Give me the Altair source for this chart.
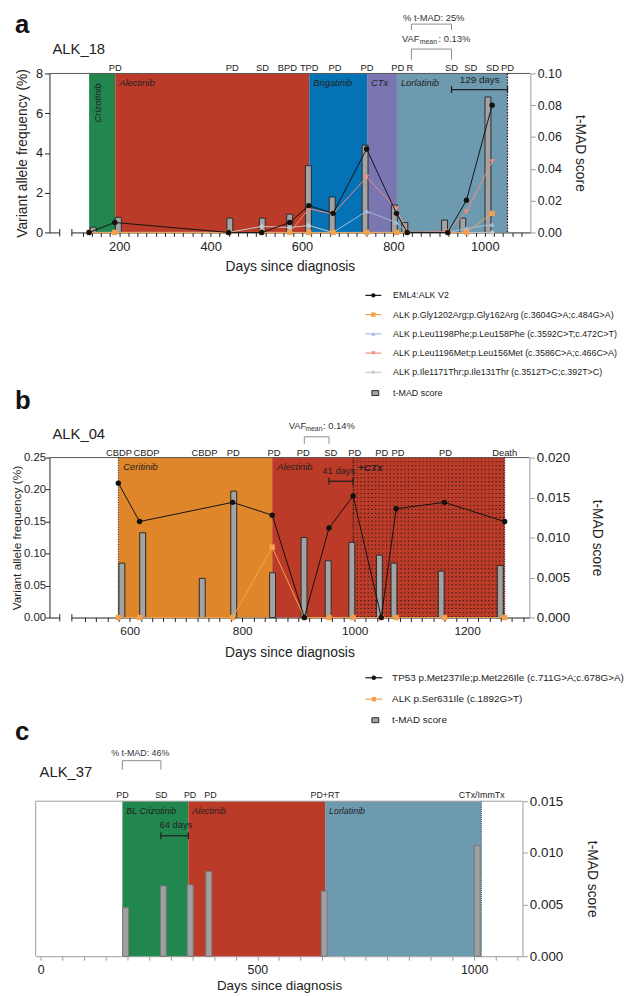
import altair as alt
import numpy as np
import pandas as pd

# ======================= DATA =======================
# ---- panel a : ALK_18
a_days = [143, 198, 442, 513, 573, 614, 666, 738, 802, 825, 912, 952, 1007]
a_tmad = [0.0033, 0.0095, 0.0090, 0.0090, 0.0115, 0.0420, 0.0223, 0.0549, 0.0173, 0.0062, 0.0078, 0.0090, 0.0852]
a_series = ["EML4:ALK V2",
            "ALK p.Gly1202Arg;p.Gly162Arg (c.3604G>A;c.484G>A)",
            "ALK p.Leu1198Phe;p.Leu158Phe (c.3592C>T;c.472C>T)",
            "ALK p.Leu1196Met;p.Leu156Met (c.3586C>A;c.466C>A)",
            "ALK p.Ile1171Thr;p.Ile131Thr (c.3512T>C;c.392T>C)"]
a_eml4 = [0, 0.5, 0, 0, 0.5, 1.35, 0.96, 4.2, 0.96, 0, 0, 1.62, 6.4]
a_gly1202 = [0, 0, 0, 0, 0, 0, 0, 0, 0, 0, 0, 0, 0.96]
a_leu1198 = [0, 0, 0, 0, 0, 0, 0, 1.07, 0.5, 0, 0, 0.2, 0.4]
a_leu1196 = [0, 0, 0, 0, 0, 1.19, 0.93, 2.78, 1.2, 0, 0.05, 1.04, 3.57]
a_ile1171 = [0, 0, 0, 0.3, 0.25, 0.35, 0, 0, 0, 0, 0, 0, 0]
a_treatments = ["Crizotinib", "Alectinib", "Brigatinib", "CTx", "Lorlatinib"]
a_treat_start = [143, 199, 615, 739, 803]
a_treat_end = [199, 615, 739, 803, 1040]
a_resp_days = [199, 450, 515, 568, 615, 670, 739, 805, 831, 920, 961, 1008, 1040]
a_resp_labels = ["PD", "PD", "SD", "BPD", "TPD", "PD", "PD", "PD", "R", "SD", "SD", "SD", "PD"]
a_bracket_days = [834, 920]
a_span_days = [920, 1040]
a_end_days = [1040]
a_break_days = [80, 106]

# ---- panel b : ALK_04
b_days = [586, 623, 729, 785, 854, 910, 953, 995, 1044, 1070, 1154, 1259]
b_tmad = [0.0068, 0.0106, 0.0049, 0.0158, 0.0056, 0.0100, 0.0071, 0.0094, 0.0078, 0.0068, 0.0058, 0.0065]
b_series = ["TP53 p.Met237Ile;p.Met226Ile (c.711G>A;c.678G>A)", "ALK p.Ser631Ile (c.1892G>T)"]
b_tp53 = [0.21, 0.15, None, 0.18, 0.16, 0.0, 0.14, 0.19, 0.0, 0.17, 0.18, 0.15]
b_ser631 = [0.0, 0.0, None, 0.0, 0.11, 0.0, 0.0, 0.0, 0.0, 0.0, 0.0, 0.0]
b_treatments = ["Ceritinib", "Alectinib"]
b_treat_start = [586, 854]
b_treat_end = [854, 1259]
b_ctx_days = [995, 1259]
b_resp_days = [587, 635, 736, 786, 857, 908, 956, 998, 1045, 1073, 1156, 1259]
b_resp_labels = ["CBDP", "CBDP", "CBDP", "PD", "PD", "PD", "SD", "PD", "PD", "PD", "PD", "Death"]
b_bracket_days = [910, 953]
b_span_days = [953, 995]
b_dotted_days = [586, 995, 1259]
b_break_days = [484, 505]

# ---- panel c : ALK_37
c_days = [196, 283, 345, 388, 654, 1007]
c_tmad = [0.0047, 0.0068, 0.0069, 0.0082, 0.0063, 0.0107]
c_treatments = ["BL Crizotinib", "Alectinib", "Lorlatinib"]
c_treat_start = [196, 345, 654]
c_treat_end = [345, 654, 1007]
c_resp_days = [196, 284, 349, 395, 654, 1008]
c_resp_labels = ["PD", "SD", "PD", "PD", "PD+RT", "CTx/ImmTx"]
c_bracket_days = [196, 283]
c_span_days = [283, 345]
c_end_days = [1007]

# ======================= STYLE / LAYOUT =======================
W, H = 636, 989
FONT = "Liberation Sans"
NARROW = "Liberation Sans Narrow, Liberation Sans"
INK = "#222222"
a_treat_colors = ["#22864F", "#BC3A28", "#0672B6", "#7A76B1", "#6E9AAF"]
b_treat_colors = ["#E0862A", "#BC3A28"]
c_treat_colors = ["#22864F", "#BC3A28", "#6E9AAF"]
a_series_colors = ["#111111", "#F2A24E", "#A3BCE0", "#F08E7E", "#C8C8CA"]
a_series_shapes = ["circle", "square", "triangle-up", "triangle-down", "diamond"]
b_series_colors = ["#111111", "#F2A24E"]
b_series_shapes = ["circle", "square"]


def P(v):
    return v - 8


def xscale(dom, x0, x1):
    return alt.Scale(domain=dom, range=[P(x0), P(x1)], nice=False, zero=False)


def yscale(dom, ybot, ytop):
    return alt.Scale(domain=dom, range=[P(ybot), P(ytop)], nice=False, zero=True)


def one():
    return pd.DataFrame({"k": [0]})


def txt(t, x, y, size, align="left", baseline="middle", weight="normal", style="normal",
        color=INK, font=FONT, angle=None):
    kw = dict(align=align, baseline=baseline, fontSize=size, fontWeight=weight,
              fontStyle=style, color=color, font=font)
    if angle is not None:
        kw["angle"] = angle
    return alt.Chart(pd.DataFrame({"t": [t]})).mark_text(**kw).encode(
        x=alt.value(P(x)), y=alt.value(P(y)), text="t:N")


def hrule(x0, x1, y, color, width=1):
    return alt.Chart(one()).mark_rule(color=color, strokeWidth=width).encode(
        x=alt.value(P(x0)), x2=alt.value(P(x1)), y=alt.value(P(y)))


def vrule(x, y0, y1, color, width=1):
    return alt.Chart(one()).mark_rule(color=color, strokeWidth=width).encode(
        x=alt.value(P(x)), y=alt.value(P(y0)), y2=alt.value(P(y1)))


def treat_rects(names, starts, ends, colors, xs, y0, y1):
    df = pd.DataFrame({"n": names, "s": starts, "e": ends})
    return alt.Chart(df).mark_rect().encode(
        x=alt.X("s:Q", scale=xs, axis=None), x2="e:Q",
        y=alt.value(P(y0)), y2=alt.value(P(y1)),
        color=alt.Color("n:N", scale=alt.Scale(domain=names, range=colors), legend=None))


def treat_labels(names, starts, xs, y, dx=4, font=FONT, size=9.5):
    df = pd.DataFrame({"n": names, "s": starts})
    return alt.Chart(df).mark_text(align="left", baseline="middle", dx=dx, fontStyle="italic",
                                   fontSize=size, color=INK, font=font).encode(
        x=alt.X("s:Q", scale=xs, axis=None), y=alt.value(P(y)), text="n:N")


def resp_labels(days, labels, xs, y, size=9.5, font=FONT):
    df = pd.DataFrame({"d": days, "t": labels})
    return alt.Chart(df).mark_text(align="center", baseline="middle", fontSize=size,
                                   color=INK, font=font).encode(
        x=alt.X("d:Q", scale=xs, axis=None), y=alt.value(P(y)), text="t:N")


def bracket(days, xs, ytop, ybot, color="#8c8c8c"):
    top = alt.Chart(pd.DataFrame({"s": [days[0]], "e": [days[1]]})).mark_rule(color=color).encode(
        x=alt.X("s:Q", scale=xs, axis=None), x2="e:Q", y=alt.value(P(ytop)))
    legs = alt.Chart(pd.DataFrame({"d": days})).mark_rule(color=color).encode(
        x=alt.X("d:Q", scale=xs, axis=None), y=alt.value(P(ytop)), y2=alt.value(P(ybot)))
    return [top, legs]


def span(days, xs, yc, color=INK):
    top = alt.Chart(pd.DataFrame({"s": [days[0]], "e": [days[1]]})).mark_rule(color=color, strokeWidth=1.3).encode(
        x=alt.X("s:Q", scale=xs, axis=None), x2="e:Q", y=alt.value(P(yc)))
    legs = alt.Chart(pd.DataFrame({"d": days})).mark_rule(color=color, strokeWidth=1.3).encode(
        x=alt.X("d:Q", scale=xs, axis=None), y=alt.value(P(yc - 3.5)), y2=alt.value(P(yc + 3.5)))
    return [top, legs]


def vdotted(days, xs, y0, y1, color="#111111", width=1.2, dash=(1.5, 1.5)):
    return alt.Chart(pd.DataFrame({"d": days})).mark_rule(color=color, strokeWidth=width,
                                                          strokeDash=list(dash)).encode(
        x=alt.X("d:Q", scale=xs, axis=None), y=alt.value(P(y0)), y2=alt.value(P(y1)))


def axis_common(**kw):
    base = dict(grid=False, labelFont=FONT, titleFont=FONT, labelColor=INK, titleColor=INK,
                titleFontWeight="normal", labelFlush=False, labelOverlap=False)
    base.update(kw)
    return alt.Axis(**base)


def x_axis(y1, ticks, every, title, color=INK, tpad=7, lsize=12.5, lpad=4, tsize=14):
    return axis_common(orient="bottom", offset=y1 - (8 + H), values=ticks, format="d",
                       labelExpr="datum.value %% %d === 0 ? datum.label : ''" % every,
                       title=title, domainColor=color, tickColor=color, tickSize=4,
                       labelPadding=lpad, labelFontSize=lsize, titleFontSize=tsize, titlePadding=tpad)


def left_axis(x0, vals, fmt, title, tpad=4, lsize=12.5, tsize=14, lpad=2, title_x=None, tick=5):
    kw = dict(orient="left", offset=-P(x0), values=vals, format=fmt, title=title,
              domainColor=INK, tickColor=INK, tickSize=tick, labelPadding=lpad,
              labelFontSize=lsize, titleFontSize=tsize, titlePadding=tpad)
    if title_x is not None:
        kw["titleX"] = title_x
    return axis_common(**kw)


def right_axis(x1, vals, fmt, title, tpad=8, lsize=12.5):
    return axis_common(orient="right", offset=x1 - (8 + W), values=vals, format=fmt, title=title,
                       domainColor="#9a9a9a", tickColor="#9a9a9a", tickSize=5, labelPadding=2,
                       labelFontSize=lsize, titleFontSize=14, titlePadding=tpad, titleAngle=90)


def bars(days, vals, xs, ys, xaxis, yaxis, fill="#A3A3A3", stroke="#2a2a2a"):
    df = pd.DataFrame({"d": days, "v": vals})
    return alt.Chart(df).mark_bar(size=6, fill=fill, stroke=stroke, strokeWidth=1,
                                  orient="vertical").encode(
        x=alt.X("d:Q", scale=xs, axis=xaxis),
        y=alt.Y("v:Q", scale=ys, axis=yaxis, stack=None),
        y2=alt.Y2Datum(0))


def series(days, vals, color, shape, xs, ys, yaxis=None, size=30):
    df = pd.DataFrame({"d": days, "v": vals}).dropna()
    ln = alt.Chart(df).mark_line(color=color, strokeWidth=1).encode(
        x=alt.X("d:Q", scale=xs, axis=None),
        y=alt.Y("v:Q", scale=ys, axis=yaxis), order="d:Q")
    pt = alt.Chart(df).mark_point(filled=True, color=color, shape=shape, size=size, opacity=1).encode(
        x=alt.X("d:Q", scale=xs, axis=None), y=alt.Y("v:Q", scale=ys, axis=None))
    return [ln, pt]


def legend(names, colors, shapes, y_first, y_last, xl0, xl1, xt, fsize):
    df = pd.DataFrame({"n": names})
    ys = alt.Scale(type="point", domain=names, range=[P(y_first), P(y_last)], padding=0)
    cs = alt.Scale(domain=names, range=colors)
    ss = alt.Scale(domain=names, range=shapes)
    yy = alt.Y("n:N", scale=ys, axis=None)
    ln = alt.Chart(df).mark_rule(strokeWidth=1.2).encode(
        x=alt.value(P(xl0)), x2=alt.value(P(xl1)), y=yy,
        color=alt.Color("n:N", scale=cs, legend=None))
    pt = alt.Chart(df).mark_point(filled=True, size=20, opacity=1).encode(
        x=alt.value(P((xl0 + xl1) / 2)), y=yy,
        color=alt.Color("n:N", scale=cs, legend=None),
        shape=alt.Shape("n:N", scale=ss, legend=None))
    tx = alt.Chart(df).mark_text(align="left", baseline="middle", fontSize=fsize, color=INK,
                                 font=FONT).encode(x=alt.value(P(xt)), y=yy, text="n:N")
    return [ln, pt, tx]


def tmad_legend(xc, yc, xt, fsize):
    sym = alt.Chart(one()).mark_rect(fill="#A3A3A3", stroke="#2a2a2a", strokeWidth=1).encode(
        x=alt.value(P(xc - 3.5)), x2=alt.value(P(xc + 3.5)),
        y=alt.value(P(yc - 2.5)), y2=alt.value(P(yc + 2.5)))
    return [sym, txt("t-MAD score", xt, yc, fsize)]


layers = []

# ======================= PANEL A =======================
AX0, AX1, AY0, AY1 = 50, 537, 68, 229
xa = xscale([58, 1089], AX0, AX1)
yal = yscale([0, 8], AY1, AY0)
yar = yscale([0, 0.1], AY1, AY0)

layers.append(treat_rects(a_treatments, a_treat_start, a_treat_end, a_treat_colors, xa, AY0, AY1))
layers.append(hrule(AX0, AX1, AY0, "#555555"))
layers.append(treat_labels(a_treatments[1:], a_treat_start[1:], xa, 77.3))
layers.append(txt(a_treatments[0], 99, 78, 9.5, align="right", style="italic", angle=270))
layers.append(vdotted(a_end_days, xa, AY0, AY1))
layers.append(bars(a_days, a_tmad, xa, yar,
                   x_axis(AY1, list(range(120, 1081, 20)), 200, "Days since diagnosis", lsize=13),
                   right_axis(AX1, [0, 0.02, 0.04, 0.06, 0.08, 0.10], ".2f", "t-MAD score", tpad=11)))
a_vals = [a_eml4, a_gly1202, a_leu1198, a_leu1196, a_ile1171]
for i in [4, 2, 3, 1]:
    layers += series(a_days, a_vals[i], a_series_colors[i], a_series_shapes[i], xa, yal)
layers += series(a_days, a_eml4, a_series_colors[0], a_series_shapes[0], xa, yal,
                 yaxis=left_axis(AX0, [0, 2, 4, 6, 8], "d", "Variant allele frequency (%)", tpad=6, lsize=13))
# broken axis
layers.append(alt.Chart(pd.DataFrame({"s": [a_break_days[0]], "e": [a_break_days[1]]})).mark_rect(color="white").encode(
    x=alt.X("s:Q", scale=xa, axis=None), x2="e:Q", y=alt.value(P(AY1 - 2)), y2=alt.value(P(AY1 + 2.5))))
layers.append(vdotted(a_break_days, xa, AY1 - 3.5, AY1 + 4, color=INK, width=1, dash=(20, 0)))
layers.append(resp_labels(a_resp_days, a_resp_labels, xa, 62.8))
layers += span(a_span_days, xa, 84.3)
layers.append(txt("129 days", 485.7, 75, 10, align="center"))
layers += bracket(a_bracket_days, xa, 18, 24)
layers += bracket(a_bracket_days, xa, 43.3, 54)
layers.append(txt("%  t-MAD: 25%", 408, 12, 9.5, color="#333333"))
layers.append(txt("VAF", 407, 33.3, 9.5, color="#333333"))
layers.append(txt("mean", 425, 36.5, 7, color="#333333"))
layers.append(txt(": 0.13%", 444, 33.3, 9.5, color="#333333"))
layers.append(txt("a", 15, 27.3, 26, baseline="alphabetic", weight="bold", color="#111111"))
layers.append(txt("ALK_18", 53, 43, 15))
layers += legend(a_series, a_series_colors, a_series_shapes, 292.7, 370.7, 370, 386, 398, 9)
layers += tmad_legend(380, 391.7, 398, 9)

# ======================= PANEL B =======================
BX0, BX1, BY0, BY1 = 50, 536, 457, 619
xb = xscale([466, 1302], BX0, BX1)
ybl = yscale([0, 0.25], BY1, BY0)
ybr = yscale([0, 0.02], BY1, BY0)

layers.append(treat_rects(b_treatments, b_treat_start, b_treat_end, b_treat_colors, xb, BY0, BY1))
# dotted texture for the +CTx period
pattern = pd.DataFrame({"r": np.arange(0.0016, 0.25, 0.0062)})
pattern["s"], pattern["e"] = b_ctx_days[0], b_ctx_days[1]
layers.append(alt.Chart(pattern).mark_rule(color="#1a1a1a", strokeWidth=1.1, strokeDash=[1.1, 2.6]).encode(
    x=alt.X("s:Q", scale=xb, axis=None), x2="e:Q", y=alt.Y("r:Q", scale=ybl, axis=None)))
layers.append(hrule(BX0, BX1, BY0, "#555555"))
layers.append(vdotted(b_dotted_days, xb, BY0, BY1, width=1, dash=(1, 1.5)))
layers.append(treat_labels(b_treatments, b_treat_start, xb, 467, dx=5))
layers.append(alt.Chart(pd.DataFrame({"s": [b_ctx_days[0]], "t": ["+CTx"]})).mark_text(
    align="left", baseline="middle", dx=5, fontStyle="italic", fontWeight="bold", fontSize=10,
    color=INK, font=FONT).encode(x=alt.X("s:Q", scale=xb, axis=None), y=alt.value(P(468)), text="t:N"))
layers.append(bars(b_days, b_tmad, xb, ybr,
                   x_axis(BY1, list(range(520, 1301, 20)), 200, "Days since diagnosis", tpad=9, lsize=12),
                   right_axis(BX1, [0, 0.005, 0.01, 0.015, 0.02], ".3f", "t-MAD score", tpad=20, lsize=13.5)))
layers += series(b_days, b_ser631, b_series_colors[1], b_series_shapes[1], xb, ybl)
layers += series(b_days, b_tp53, b_series_colors[0], b_series_shapes[0], xb, ybl,
                 yaxis=left_axis(BX0, [0, 0.05, 0.1, 0.15, 0.2, 0.25], ".2f",
                                 "Variant allele frequency (%)", tpad=0, lsize=11.5, tsize=12,
                                 lpad=0, tick=4, title_x=-26))
layers.append(alt.Chart(pd.DataFrame({"s": [b_break_days[0]], "e": [b_break_days[1]]})).mark_rect(color="white").encode(
    x=alt.X("s:Q", scale=xb, axis=None), x2="e:Q", y=alt.value(P(BY1 - 2)), y2=alt.value(P(BY1 + 2.5))))
layers.append(vdotted(b_break_days, xb, BY1 - 3.5, BY1 + 4, color=INK, width=1, dash=(20, 0)))
layers.append(resp_labels(b_resp_days, b_resp_labels, xb, 452))
layers += span(b_span_days, xb, 481)
layers.append(txt("41 days", 343, 470.7, 9.5, align="center"))
layers += bracket(b_bracket_days, xb, 436, 443)
layers.append(txt("VAF", 292.3, 425, 9.5, color="#333333"))
layers.append(txt("mean", 309, 428.2, 7, color="#333333"))
layers.append(txt(": 0.14%", 327, 425, 9.5, color="#333333"))
layers.append(txt("b", 15, 408.3, 26, baseline="alphabetic", weight="bold", color="#111111"))
layers.append(txt("ALK_04", 53, 433, 15))
layers += legend(b_series, b_series_colors, b_series_shapes, 680, 701.7, 370, 387, 397, 10)
layers += tmad_legend(380, 723, 397, 10)

# ======================= PANEL C =======================
CX0, CX1, CY0, CY1 = 36, 529, 805, 962
xc = xscale([0, 1100], CX0, CX1)
ycr = yscale([0, 0.015], CY1, CY0)

layers.append(treat_rects(c_treatments, c_treat_start, c_treat_end, c_treat_colors, xc, CY0, CY1))
layers.append(hrule(CX0, CX1, CY0, "#9a9a9a"))
layers.append(vrule(CX0, CY0, CY1, "#9a9a9a"))
layers.append(vdotted(c_end_days, xc, CY0, CY1, color="#2a4a5a", width=1, dash=(1, 1)))
layers.append(treat_labels(c_treatments, c_treat_start, xc, 815, dx=4, font=NARROW, size=9))
layers.append(bars(c_days, c_tmad, xc, ycr,
                   x_axis(CY1, list(range(0, 1101, 50)), 500, "Days since diagnosis", color="#9a9a9a",
                          tpad=3, lpad=3, lsize=12.5, tsize=13.5),
                   right_axis(CX1, [0, 0.005, 0.01, 0.015], ".3f", "t-MAD score", tpad=22, lsize=13.5),
                   fill="#A0A0A0", stroke="#7a7a7a"))
layers.append(resp_labels(c_resp_days, c_resp_labels, xc, 799, size=9, font=NARROW))
layers += span(c_span_days, xc, 840)
layers.append(txt("64 days", 178, 829, 9.5, align="center", font=NARROW))
layers += bracket(c_bracket_days, xc, 764, 773)
layers.append(txt("%  t-MAD: 46%", 112.5, 756.7, 9, font=NARROW, color="#333333"))
layers.append(txt("c", 15, 743.3, 26, baseline="alphabetic", weight="bold", color="#111111"))
layers.append(txt("ALK_37", 40, 776, 15))

chart = alt.layer(*layers).resolve_scale(
    x="independent", y="independent", color="independent", shape="independent"
).resolve_axis(x="independent", y="independent").properties(
    width=W, height=H, autosize=alt.AutoSizeParams(type="none"), padding=0
).configure_view(stroke=None)

chart.save("out.html", embed_options={"renderer": "svg", "actions": False})
